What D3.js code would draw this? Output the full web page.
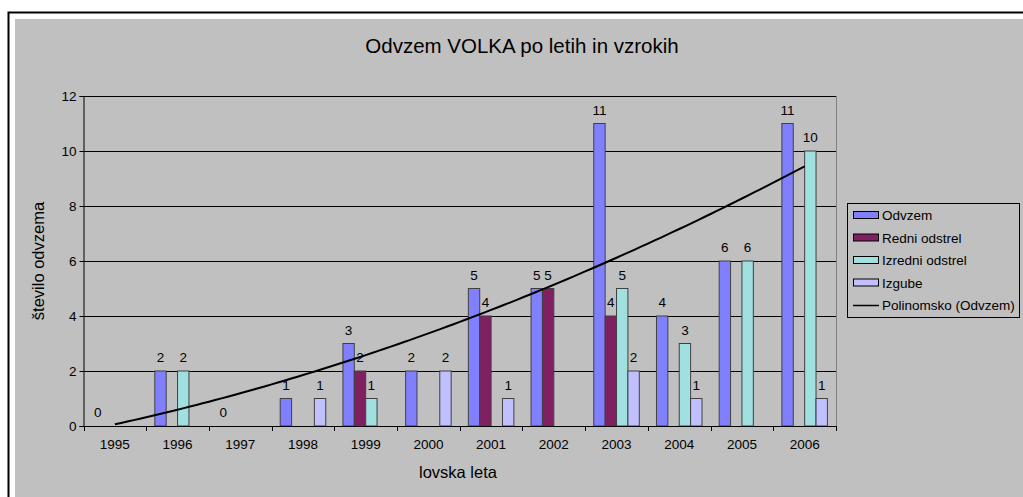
<!DOCTYPE html>
<html>
<head>
<meta charset="utf-8">
<script src="https://cdn.jsdelivr.net/npm/d3@7"></script>
<style>
  body { margin: 0; background: #fff; }
  svg text { font-family: "Liberation Sans", Arial, sans-serif; fill: #000; }
</style>
</head>
<body>
<script>
var years = ["1995","1996","1997","1998","1999","2000","2001","2002","2003","2004","2005","2006"];
var seriesNames = ["Odvzem","Redni odstrel","Izredni odstrel","Izgube"];
var odvzem   = [0, 2, 0, 1, 3, 2, 5, 5, 11, 4, 6, 11];
var redni    = [null, null, null, null, 2, null, 4, 5, 4, null, null, null];
var izredni  = [null, 2, null, null, 1, null, null, null, 5, 3, 6, 10];
var izgube   = [null, null, null, 1, null, 2, 1, null, 2, 1, null, 1];
var yTicks = [0, 2, 4, 6, 8, 10, 12];
var colors = ["#8080FF", "#802060", "#A0E0E0", "#C0C0FF"];

var W = 1023, H = 497;
var svg = d3.select("body").append("svg")
    .attr("width", W)
    .attr("height", H);

// chart area frame
svg.append("rect")
    .attr("x", 8.5).attr("y", 12.5)
    .attr("width", W + 10).attr("height", H + 10)
    .attr("fill", "#fff").attr("stroke", "#000").attr("stroke-width", 2);
svg.append("rect")
    .attr("x", 15).attr("y", 19)
    .attr("width", W).attr("height", H)
    .attr("fill", "#C0C0C0");

svg.append("text")
    .attr("x", 522).attr("y", 53)
    .attr("text-anchor", "middle")
    .style("font-size", "20.5px")
    .text("Odvzem VOLKA po letih in vzrokih");

var plotLeft = 83.5, plotRight = 836, plotTop = 96, plotBottom = 426;

var x0 = d3.scaleBand().domain(years).range([plotLeft, plotRight]).padding(0);
var bw = x0.bandwidth();
var x1 = d3.scaleBand().domain(seriesNames).range([bw * 0.137, bw * 0.863]).padding(0);
var y = d3.scaleLinear().domain([0, 12]).range([plotBottom, plotTop]);

// gridlines
svg.append("g").selectAll("line")
    .data(yTicks.filter(function(d) { return d > 0; }))
    .enter().append("line")
    .attr("x1", plotLeft).attr("x2", plotRight)
    .attr("y1", function(d) { return Math.round(y(d)) + 0.5; })
    .attr("y2", function(d) { return Math.round(y(d)) + 0.5; })
    .attr("stroke", "#000").attr("stroke-width", 1);

// plot area right border
svg.append("line")
    .attr("x1", plotRight + 0.5).attr("x2", plotRight + 0.5)
    .attr("y1", plotTop).attr("y2", plotBottom)
    .attr("stroke", "#808080").attr("stroke-width", 1);

var table = years.map(function(yr, i) {
    return {
        year: yr,
        values: [odvzem[i], redni[i], izredni[i], izgube[i]].map(function(v, k) {
            return { name: seriesNames[k], value: v, k: k };
        })
    };
});

var groups = svg.append("g").selectAll("g")
    .data(table)
    .enter().append("g")
    .attr("transform", function(d) { return "translate(" + x0(d.year) + ",0)"; });

groups.selectAll("rect")
    .data(function(d) { return d.values.filter(function(v) { return v.value !== null && v.value > 0; }); })
    .enter().append("rect")
    .attr("x", function(d) { return x1(d.name); })
    .attr("y", function(d) { return y(d.value); })
    .attr("width", x1.bandwidth())
    .attr("height", function(d) { return y(0) - y(d.value); })
    .attr("fill", function(d) { return colors[d.k]; })
    .attr("stroke", "#404040")
    .attr("stroke-width", 1);

groups.selectAll("text")
    .data(function(d) { return d.values.filter(function(v) { return v.value !== null; }); })
    .enter().append("text")
    .attr("x", function(d) { return x1(d.name) + x1.bandwidth() / 2; })
    .attr("y", function(d) { return y(d.value) - 9; })
    .attr("text-anchor", "middle")
    .style("font-size", "13.5px")
    .text(function(d) { return d.value; });

// axes
var yAxis = svg.append("g")
    .attr("transform", "translate(" + plotLeft + ",0)")
    .call(d3.axisLeft(y).tickValues(yTicks).tickSize(4).tickPadding(3));
yAxis.selectAll("text").style("font-size", "13.5px");

var xAxis = svg.append("g")
    .attr("transform", "translate(0," + plotBottom + ")")
    .call(d3.axisBottom(x0).tickSize(0).tickPadding(13));
xAxis.select(".domain").remove();
xAxis.selectAll("text").style("font-size", "13.5px");
svg.append("line")
    .attr("x1", plotLeft).attr("x2", plotRight + 1)
    .attr("y1", plotBottom + 0.5).attr("y2", plotBottom + 0.5)
    .attr("stroke", "#000");
svg.append("g").selectAll("line")
    .data(d3.range(years.length + 1))
    .enter().append("line")
    .attr("x1", function(i) { return Math.round(plotLeft + i * bw) + 0.5; })
    .attr("x2", function(i) { return Math.round(plotLeft + i * bw) + 0.5; })
    .attr("y1", plotBottom).attr("y2", plotBottom + 5)
    .attr("stroke", "#000");
svg.selectAll(".domain").attr("stroke", "#000");

// polynomial trendline (order 2, least squares on Odvzem)
function polyFit(ys) {
    var n = ys.length, s = [0, 0, 0, 0, 0], t = [0, 0, 0];
    for (var i = 0; i < n; i++) {
        var xv = i + 1;
        for (var p = 0; p < 5; p++) s[p] += Math.pow(xv, p);
        for (var q = 0; q < 3; q++) t[q] += ys[i] * Math.pow(xv, q);
    }
    var A = [[s[0], s[1], s[2], t[0]], [s[1], s[2], s[3], t[1]], [s[2], s[3], s[4], t[2]]];
    for (var c = 0; c < 3; c++) {
        for (var r = c + 1; r < 3; r++) {
            var f = A[r][c] / A[c][c];
            for (var k = c; k < 4; k++) A[r][k] -= f * A[c][k];
        }
    }
    var co = [0, 0, 0];
    for (var r2 = 2; r2 >= 0; r2--) {
        var sum = A[r2][3];
        for (var k2 = r2 + 1; k2 < 3; k2++) sum -= A[r2][k2] * co[k2];
        co[r2] = sum / A[r2][r2];
    }
    return co;
}
var co = polyFit(odvzem);
var trend = d3.range(1, years.length + 0.001, 0.1).map(function(xv) {
    return [xv, co[0] + co[1] * xv + co[2] * xv * xv];
});
var lineGen = d3.line()
    .x(function(d) { return plotLeft + (d[0] - 0.5) * bw; })
    .y(function(d) { return y(d[1]); });
svg.append("path")
    .datum(trend)
    .attr("d", lineGen)
    .attr("fill", "none")
    .attr("stroke", "#000")
    .attr("stroke-width", 2);

// axis titles
svg.append("text")
    .attr("transform", "translate(44,261) rotate(-90)")
    .attr("text-anchor", "middle")
    .style("font-size", "16.5px")
    .text("število odvzema");
svg.append("text")
    .attr("x", 458).attr("y", 478)
    .attr("text-anchor", "middle")
    .style("font-size", "16.5px")
    .text("lovska leta");

// legend
var legend = svg.append("g");
legend.append("rect")
    .attr("x", 847.5).attr("y", 203.5)
    .attr("width", 172).attr("height", 114)
    .attr("fill", "#C0C0C0").attr("stroke", "#000");
var legItems = seriesNames.concat(["Polinomsko (Odvzem)"]);
var li = legend.selectAll("g.item")
    .data(legItems)
    .enter().append("g")
    .attr("class", "item")
    .attr("transform", function(d, i) { return "translate(853," + (215 + i * 22.5) + ")"; });
li.each(function(d, i) {
    var g = d3.select(this);
    if (i < 4) {
        g.append("rect")
            .attr("x", 0.5).attr("y", -3.5)
            .attr("width", 25).attr("height", 7)
            .attr("fill", colors[i]).attr("stroke", "#000");
    } else {
        g.append("line")
            .attr("x1", 0).attr("x2", 26)
            .attr("y1", 0.5).attr("y2", 0.5)
            .attr("stroke", "#000").attr("stroke-width", 1.5);
    }
    g.append("text")
        .attr("x", 29).attr("y", 5)
        .style("font-size", "13.5px")
        .text(d);
});
</script>
</body>
</html>
